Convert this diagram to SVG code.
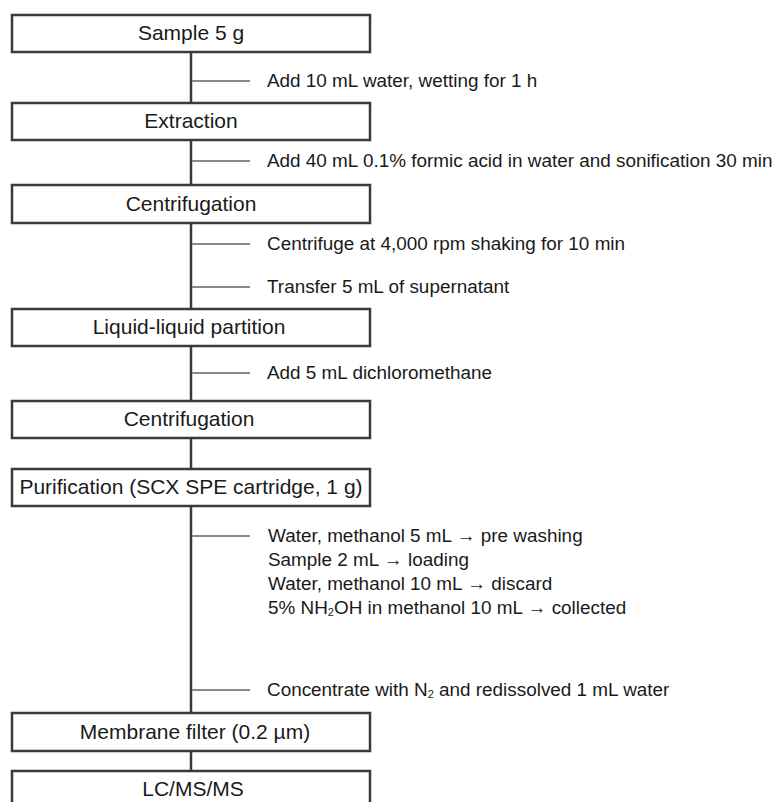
<svg xmlns="http://www.w3.org/2000/svg" width="774" height="802" viewBox="0 0 774 802">
<style>
.box{fill:#fff;stroke:#3a3a3a;stroke-width:2.5}
.lbl{font-family:"Liberation Sans",Arial,sans-serif;font-size:21px;fill:#1a1a1a;text-anchor:middle}
.side{font-family:"Liberation Sans",Arial,sans-serif;font-size:18.9px;fill:#1a1a1a}
.trunk{stroke:#3a3a3a;stroke-width:2.5;fill:none}
.tick{stroke:#8a8a8a;stroke-width:1.8;fill:none}
.sub{font-size:11px}
</style>
<rect width="774" height="802" fill="#fff"/>
<g id="connectors">
<line class="trunk" x1="191" y1="52" x2="191" y2="103"/>
<line class="trunk" x1="191" y1="140" x2="191" y2="185"/>
<line class="trunk" x1="191" y1="223" x2="191" y2="309"/>
<line class="trunk" x1="191" y1="346" x2="191" y2="401"/>
<line class="trunk" x1="191" y1="438" x2="191" y2="469"/>
<line class="trunk" x1="191" y1="506" x2="191" y2="713"/>
<line class="trunk" x1="191" y1="751" x2="191" y2="771"/>
<line class="tick" x1="192" y1="81" x2="250" y2="81"/>
<line class="tick" x1="192" y1="161" x2="250" y2="161"/>
<line class="tick" x1="192" y1="244" x2="250" y2="244"/>
<line class="tick" x1="192" y1="287" x2="250" y2="287"/>
<line class="tick" x1="192" y1="373" x2="250" y2="373"/>
<line class="tick" x1="192" y1="536" x2="250" y2="536"/>
<line class="tick" x1="192" y1="690" x2="250" y2="690"/>
</g>
<g id="notes">
<text class="side" x="267" y="87">Add 10 mL water, wetting for 1 h</text>
<text class="side" x="267" y="167">Add 40 mL 0.1% formic acid in water and sonification 30 min</text>
<text class="side" x="267" y="250">Centrifuge at 4,000 rpm shaking for 10 min</text>
<text class="side" x="267" y="293">Transfer 5 mL of supernatant</text>
<text class="side" x="267" y="379">Add 5 mL dichloromethane</text>
<text class="side" x="268" y="542">Water, methanol 5 mL → pre washing</text>
<text class="side" x="268" y="566">Sample 2 mL → loading</text>
<text class="side" x="268" y="590">Water, methanol 10 mL → discard</text>
<text class="side" x="268" y="614">5% NH<tspan class="sub" dy="2">2</tspan><tspan dy="-2">OH in methanol 10 mL → collected</tspan></text>
<text class="side" x="267" y="696">Concentrate with N<tspan class="sub" dy="2">2</tspan><tspan dy="-2"> and redissolved 1 mL water</tspan></text>
</g>
<g id="n1"><rect class="box" x="12" y="15" width="358" height="37"/><text class="lbl" x="191" y="40">Sample 5 g</text></g>
<g id="n2"><rect class="box" x="12" y="103" width="358" height="37"/><text class="lbl" x="191" y="128">Extraction</text></g>
<g id="n3"><rect class="box" x="12" y="185" width="358" height="38"/><text class="lbl" x="191" y="211">Centrifugation</text></g>
<g id="n4"><rect class="box" x="12" y="309" width="358" height="37"/><text class="lbl" x="189" y="334">Liquid-liquid partition</text></g>
<g id="n5"><rect class="box" x="12" y="401" width="358" height="37"/><text class="lbl" x="189" y="426">Centrifugation</text></g>
<g id="n6"><rect class="box" x="12" y="469" width="358" height="37"/><text class="lbl" x="191" y="494">Purification (SCX SPE cartridge, 1 g)</text></g>
<g id="n7"><rect class="box" x="12" y="713" width="358" height="38"/><text class="lbl" x="195" y="739">Membrane filter (0.2 µm)</text></g>
<g id="n8"><rect class="box" x="12" y="771" width="358" height="40"/><text class="lbl" x="193" y="796">LC/MS/MS</text></g>
</svg>
